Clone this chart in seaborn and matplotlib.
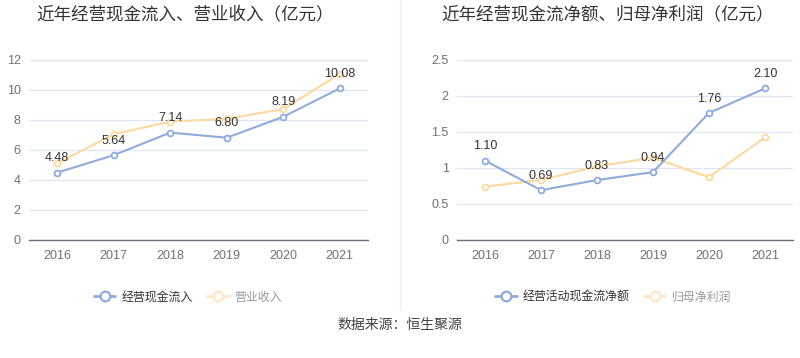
import numpy as np
import pandas as pd
import matplotlib
matplotlib.use("Agg")
import matplotlib.pyplot as plt
from matplotlib.lines import Line2D
import seaborn as sns

years = ["2016", "2017", "2018", "2019", "2020", "2021"]
cash_in = [4.48, 5.64, 7.14, 6.80, 8.19, 10.08]
revenue = [5.10, 7.03, 7.87, 8.05, 8.71, 11.04]
cash_net = [1.10, 0.69, 0.83, 0.94, 1.76, 2.10]
net_profit = [0.74, 0.83, 1.02, 1.14, 0.87, 1.42]

left_ticks = [0, 2, 4, 6, 8, 10, 12]
right_ticks = [0, 0.5, 1, 1.5, 2, 2.5]
right_ticklabels = ["0", "0.5", "1", "1.5", "2", "2.5"]

BLUE = "#8eabdd"
ORANGE = "#fcd99d"
NUMFONT = ["Liberation Sans", "DejaVu Sans"]

sns.set_style("white")
plt.rcParams['font.family'] = ['Noto Sans CJK SC', 'DejaVu Sans']

fig = plt.figure(figsize=(8, 3.58), dpi=100)
W, H = 800, 358


def px_axes(x0, y0, x1, y1):
    return fig.add_axes([x0 / W, 1 - y1 / H, (x1 - x0) / W, (y1 - y0) / H])


def draw(ax, s1, s2, ticks, ticklabels, ymax, fmt):
    df = pd.DataFrame({"year": np.arange(len(years)), "a": s1, "b": s2})
    for col, c in (("b", ORANGE), ("a", BLUE)):
        sns.lineplot(data=df, x="year", y=col, ax=ax, color=c, lw=1.5,
                     marker="o", markersize=4.2, markerfacecolor="white",
                     markeredgecolor=c, markeredgewidth=1.3, zorder=3)
    for i, v in enumerate(s1):
        ax.annotate(fmt.format(v), (i, v), xytext=(0, 6), textcoords="offset points",
                    ha="center", va="bottom", fontsize=9, color="#333333",
                    family=NUMFONT, zorder=5)
    ax.set_xlim(-0.5, len(years) - 0.5)
    ax.set_ylim(0, ymax)
    ax.set_xticks(range(len(years)))
    ax.set_xticklabels(years, family=NUMFONT)
    ax.set_yticks(ticks)
    ax.set_yticklabels(ticklabels, family=NUMFONT)
    ax.set_xlabel("")
    ax.set_ylabel("")
    ax.grid(axis="y", color="#e0e6f1", lw=0.9)
    ax.set_axisbelow(True)
    for s in ("top", "right", "left"):
        ax.spines[s].set_visible(False)
    ax.spines["bottom"].set_color("#6e7079")
    ax.spines["bottom"].set_linewidth(1)
    ax.tick_params(axis="both", length=0, labelsize=9, colors="#6e7079", pad=6)
    ax.tick_params(axis="x", length=3, color="#6e7079", direction="out", pad=4)


ax1 = px_axes(29, 59.5, 368, 240)
draw(ax1, cash_in, revenue, left_ticks, [str(t) for t in left_ticks], 12, "{:.2f}")
ax2 = px_axes(457, 59.5, 793, 240)
draw(ax2, cash_net, net_profit, right_ticks, right_ticklabels, 2.5, "{:.2f}")

fig.text(36 / W, 1 - 14 / H, "近年经营现金流入、营业收入（亿元）", fontsize=12.6,
         color="#333333", ha="left", va="center")
fig.text(441 / W, 1 - 14 / H, "近年经营现金流净额、归母净利润（亿元）", fontsize=12.6,
         color="#333333", ha="left", va="center")

fig.add_artist(Line2D([400 / W, 400 / W], [1 - 310 / H, 1], color="#eeeeee", lw=1))


def legend(x, labels):
    handles = [Line2D([], [], color=BLUE, lw=2, marker="o", markersize=7,
                      markerfacecolor="white", markeredgewidth=1.6),
               Line2D([], [], color="#fde8c4", lw=2, marker="o", markersize=7,
                      markerfacecolor="white", markeredgewidth=1.6)]
    lg = fig.legend(handles, labels, loc="center", bbox_to_anchor=(x / W, 1 - 297 / H),
                    ncol=2, frameon=False, fontsize=8.6, handlelength=1.8,
                    columnspacing=1.2, handletextpad=0.5)
    lg.get_texts()[0].set_color("#333333")
    lg.get_texts()[1].set_color("#999999")


legend(188, ["经营现金流入", "营业收入"])
legend(613, ["经营活动现金流净额", "归母净利润"])

fig.text(0.5, 1 - 325 / H, "数据来源：恒生聚源", fontsize=10, color="#444444",
         ha="center", va="center")

fig.savefig("out.png", dpi=100)
